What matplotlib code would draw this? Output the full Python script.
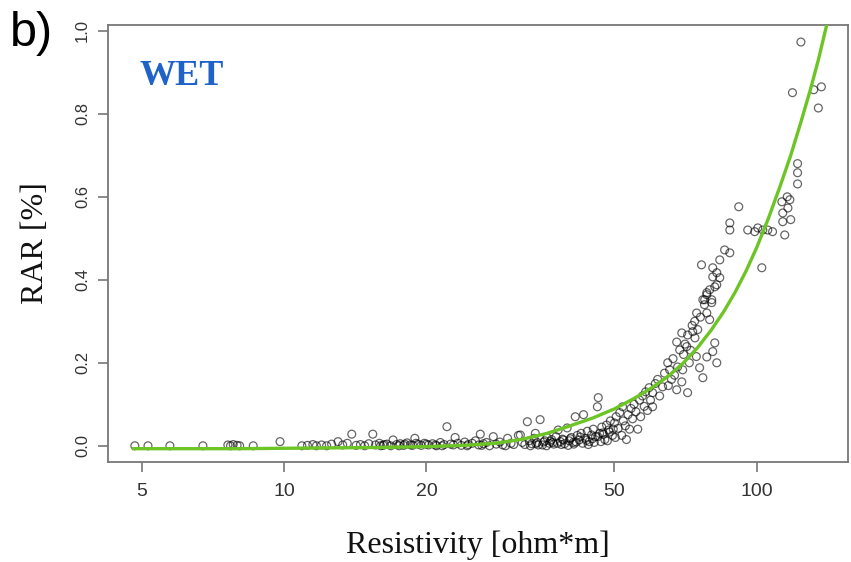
import numpy as np
import matplotlib.pyplot as plt
from matplotlib.ticker import NullLocator

# measured points (resistivity in ohm*m, RAR in %)
res_low = [4.83, 5.15, 5.73, 6.73, 7.6, 7.7, 7.8, 7.95, 8.05, 8.6, 9.8, 10.9, 11.2, 11.5, 11.7,
           12.0, 12.3, 12.6, 13.0, 13.3, 13.6, 13.9, 14.2, 14.5, 14.8, 15.1, 15.4, 15.6, 15.9,
           16.2, 16.5, 16.8, 17.0, 17.3, 17.6, 17.9, 18.2, 18.5, 18.9, 19.2, 19.5, 19.8,
           16.0, 16.3, 17.5, 18.0, 18.7, 19.0, 20.0, 20.9, 21.6, 22.8, 24.4, 26.2, 29.4]
rar_low = [0.0, 0.0, 0.0, 0.0, 0.002, 0.0, 0.003, 0.001, 0.0, 0.0, 0.01, 0.0, 0.001, 0.003, 0.0,
           0.002, 0.0, 0.004, 0.01, 0.002, 0.006, 0.028, 0.001, 0.003, 0.0, 0.005, 0.028, 0.002, 0.006,
           0.001, 0.004, 0.0, 0.014, 0.003, 0.005, 0.001, 0.007, 0.002, 0.018, 0.004, 0.001, 0.006,
           0.0, 0.003, 0.0, 0.004, 0.001, 0.006, 0.004, 0.002, 0.0, 0.002, 0.0, 0.001, 0.0]

res_mid = [20.2, 20.6, 21.0, 21.4, 21.8, 22.1, 22.5, 23.0, 23.3, 23.7, 24.1, 24.5, 25.0, 25.4,
           25.8, 26.0, 26.4, 26.8, 27.2, 27.7, 28.1, 28.6, 29.0, 29.7, 30.2, 30.6,
           31.3, 31.6, 31.9, 32.3, 32.7, 33.0, 33.4, 33.8, 34.0, 34.3, 34.8, 35.2, 35.6, 36.0,
           36.4, 36.8, 37.2, 37.6, 38.0, 38.4, 38.8, 39.2, 39.7, 40.1, 40.5, 40.9, 41.3, 41.7,
           42.1, 42.5, 43.0, 43.4, 43.8, 44.2, 44.7, 45.1, 45.6,
           33.2, 34.5, 35.9, 37.0, 38.6, 39.9, 41.0, 42.8, 44.0, 45.3, 46.8, 48.3, 50.2, 51.8,
           34.1, 35.4, 36.6, 37.9, 39.0, 40.3, 41.5, 42.3, 43.6, 44.9, 46.1, 47.4, 48.8, 49.7]
rar_mid = [0.002, 0.005, 0.0, 0.008, 0.003, 0.046, 0.004, 0.02, 0.006, 0.001, 0.009, 0.003, 0.006, 0.012,
           0.002, 0.028, 0.005, 0.008, 0.0, 0.022, 0.004, 0.009, 0.002, 0.018, 0.006, 0.003,
           0.025, 0.026, 0.008, 0.003, 0.058, 0.012, 0.005, 0.018, 0.03, 0.008, 0.063, 0.002, 0.012, 0.02,
           0.006, 0.015, 0.004, 0.022, 0.038, 0.01, 0.016, 0.005, 0.043, 0.012, 0.02, 0.008, 0.07, 0.025,
           0.014, 0.03, 0.075, 0.018, 0.035, 0.01, 0.026, 0.04, 0.022,
           0.0, 0.002, 0.0, 0.008, 0.003, 0.001, 0.004, 0.006, 0.003, 0.008, 0.01, 0.012, 0.02, 0.025,
           0.005, 0.009, 0.011, 0.006, 0.014, 0.017, 0.009, 0.021, 0.013, 0.017, 0.022, 0.028, 0.033, 0.04]

res_high = [46.2, 46.0, 46.5, 47.0, 47.2, 47.7, 48.1, 48.6, 49.0, 49.5, 50.0, 50.4, 50.9, 51.3,
            52.0, 52.2, 52.7, 53.0, 53.4, 53.8, 54.2, 54.6, 55.0, 55.5, 56.0, 56.5, 56.8, 57.3,
            57.8, 58.2, 58.7, 59.2, 59.6, 60.2, 60.2, 61.0, 61.7, 62.3, 63.2, 63.8,
            64.8, 65.4, 67.7, 69.4, 71.4, 69.7, 67.7, 69.4, 71.4, 73.2, 68.7, 71.1, 75.7, 76.9,
            78.4, 80.7, 82.3, 81.5, 74.6, 78.4, 73.9, 79.5, 78.4, 80.3, 76.9, 82.3,
            66.5, 68.0, 70.0, 72.5, 66.0, 65.0, 67.0, 70.5, 72.0, 74.0, 75.0, 76.0, 74.5, 77.5, 73.0,
            91.6, 87.7, 87.7, 95.7, 99.0, 100.5, 103.0, 105.5, 108.0, 102.5, 85.5, 87.7, 76.4, 83.5,
            80.7, 82.3, 80.7, 83.5, 81.5, 79.5, 78.4, 77.6, 80.3,
            124.0, 119.0, 132.0, 137.0, 135.0, 122.0, 122.0, 122.0, 116.0, 117.5, 113.0, 116.4,
            113.5, 118.0, 113.5, 114.6]
rar_high = [0.116, 0.094, 0.03, 0.045, 0.031, 0.015, 0.05, 0.038, 0.06, 0.025, 0.055, 0.07, 0.042, 0.08,
            0.094, 0.06, 0.048, 0.015, 0.075, 0.04, 0.09, 0.065, 0.1, 0.082, 0.04, 0.11, 0.07, 0.12,
            0.095, 0.13, 0.085, 0.14, 0.11, 0.094, 0.128, 0.15, 0.16, 0.12, 0.142, 0.175,
            0.2, 0.183, 0.135, 0.154, 0.128, 0.183, 0.25, 0.272, 0.267, 0.275, 0.231, 0.239, 0.188, 0.164,
            0.214, 0.227, 0.2, 0.248, 0.32, 0.32, 0.3, 0.304, 0.369, 0.352, 0.352, 0.388,
            0.21, 0.19, 0.22, 0.23, 0.16, 0.145, 0.17, 0.245, 0.2, 0.26, 0.28, 0.31, 0.215, 0.34, 0.29,
            0.576, 0.537, 0.52, 0.52, 0.516, 0.525, 0.52, 0.52, 0.516, 0.429, 0.472, 0.465, 0.436, 0.448,
            0.429, 0.417, 0.407, 0.405, 0.383, 0.376, 0.364, 0.352, 0.345,
            0.973, 0.851, 0.858, 0.865, 0.814, 0.68, 0.658, 0.631, 0.6, 0.593, 0.588, 0.573,
            0.561, 0.545, 0.54, 0.508]

# fitted curve
fit_res = [4.8, 6, 8, 10, 13, 16, 20, 24, 28, 32, 36, 40, 45, 50, 55, 60, 65, 70, 75, 80,
           85, 90, 95, 100, 106, 112, 118, 124, 130, 135, 141]
fit_rar = [-0.007, -0.007, -0.007, -0.006, -0.005, -0.004, -0.002, 0.001, 0.006, 0.016, 0.03,
           0.047, 0.067, 0.089, 0.114, 0.14, 0.168, 0.2, 0.237, 0.278, 0.322, 0.37, 0.422, 0.478,
           0.55, 0.625, 0.70, 0.78, 0.86, 0.93, 1.02]

x_ticks = [5, 10, 20, 50, 100]
y_ticks = [0.0, 0.2, 0.4, 0.6, 0.8, 1.0]

res = res_low + res_mid + res_high
rar = rar_low + rar_mid + rar_high

fig = plt.figure(figsize=(8.51, 5.62), dpi=100)
ax = fig.add_axes([0.127, 0.178, 0.8695, 0.7775])

ax.scatter(res, rar, s=32, facecolors="none", edgecolors="black", linewidths=0.9, alpha=0.6, zorder=2)
ax.plot(fit_res, fit_rar, color="#6cc524", lw=2.4, zorder=3)

ax.set_xscale("log")
ax.set_xlim(4.24, 156)
ax.set_ylim(-0.039, 1.014)
ax.xaxis.set_minor_locator(NullLocator())
ax.set_xticks(x_ticks)
ax.set_xticklabels([str(t) for t in x_ticks])
ax.set_yticks(y_ticks)
ax.set_yticklabels([f"{t:.1f}" for t in y_ticks], rotation=90, va="center")

for s in ax.spines.values():
    s.set_color("#777777")
    s.set_linewidth(1.3)
ax.tick_params(colors="#777777", length=7, width=1.2, labelcolor="#333333")
ax.tick_params(axis="x", labelsize=14, pad=8)
ax.tick_params(axis="y", labelsize=12, pad=6)
for lab in ax.get_xticklabels() + ax.get_yticklabels():
    lab.set_family("Liberation Sans")

ax.set_xlabel("Resistivity [ohm*m]", family="Liberation Serif", fontsize=23, labelpad=22, color="#111111")
ax.set_ylabel("RAR [%]", family="Liberation Serif", fontsize=23, labelpad=18, color="#111111")

ax.text(0.043, 0.882, "WET", transform=ax.transAxes, family="Liberation Serif", fontweight="bold",
        fontsize=26, color="#1f63c9", va="center", ha="left")
fig.text(0.012, 0.98, "b)", family="Liberation Sans", fontsize=35, va="top", ha="left")

plt.savefig("out.png", dpi=100)
